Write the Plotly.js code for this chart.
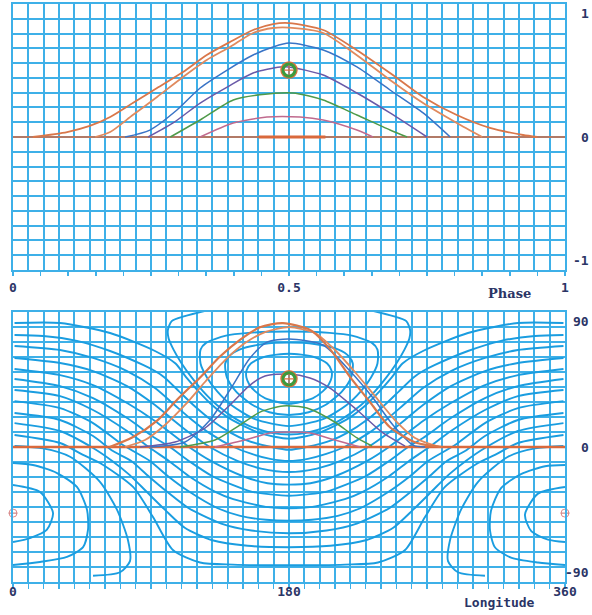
<!DOCTYPE html>
<html><head><meta charset="utf-8">
<script src="https://cdn.plot.ly/plotly-3.0.1.min.js"></script>
<style>body{margin:0;background:#fff}#chart{width:592px;height:615px}</style>
</head><body><div id="chart"></div>
<script>
// ---------- top panel: light curves (phase, relative flux) ----------
const c1Phase = [0.036, 0.098, 0.139, 0.176, 0.217, 0.261, 0.308, 0.351, 0.393, 0.435, 0.471, 0.5, 0.562, 0.623, 0.683, 0.743, 0.804, 0.864, 0.924, 0.95];
const c1Flux  = [0, 0.04, 0.089, 0.161, 0.274, 0.395, 0.524, 0.661, 0.766, 0.863, 0.911, 0.919, 0.863, 0.70, 0.516, 0.323, 0.177, 0.073, 0.016, 0];
const c2Phase = [0.149, 0.176, 0.217, 0.261, 0.308, 0.351, 0.393, 0.435, 0.471, 0.5, 0.562, 0.623, 0.683, 0.743, 0.804, 0.85];
const c2Flux  = [0, 0.04, 0.177, 0.323, 0.484, 0.621, 0.726, 0.839, 0.879, 0.882, 0.839, 0.66, 0.46, 0.274, 0.113, 0];
const c3Phase = [0.203, 0.248, 0.297, 0.339, 0.388, 0.435, 0.471, 0.5, 0.562, 0.623, 0.683, 0.743, 0.792];
const c3Flux  = [0, 0.056, 0.218, 0.395, 0.54, 0.661, 0.726, 0.758, 0.702, 0.565, 0.379, 0.194, 0];
const c4Phase = [0.245, 0.290, 0.339, 0.388, 0.435, 0.484, 0.5, 0.562, 0.623, 0.683, 0.75];
const c4Flux  = [0, 0.113, 0.274, 0.403, 0.516, 0.565, 0.565, 0.5, 0.355, 0.194, 0];
const c5Phase = [0.285, 0.339, 0.399, 0.447, 0.507, 0.562, 0.623, 0.683, 0.714];
const c5Flux  = [0, 0.137, 0.298, 0.34, 0.355, 0.298, 0.177, 0.056, 0];
const c6Phase = [0.339, 0.399, 0.46, 0.52, 0.562, 0.623, 0.652];
const c6Flux  = [0, 0.113, 0.161, 0.161, 0.137, 0.056, 0];
const basePhase = [0, 1];
const baseFlux  = [0, 0];
const c7Phase = [0.445, 0.5, 0.566];
const c7Flux  = [0, 0, 0];
const spotPhase = [0.5];
const spotFlux  = [0.54];

// ---------- bottom panel: map (longitude, latitude) ----------
const m1Lon = [63, 78, 94, 107, 122, 135, 148, 161, 176, 194, 207, 220, 233, 246, 263, 280];
const m1Lat = [0, 7, 19, 34, 50, 65, 77, 86, 89, 84, 70, 50, 32, 14, 3, 0];
const m2Lon = [73, 86.1, 99.1, 112.2, 125.2, 138.3, 151.3, 164.4, 180, 197, 210, 223, 236.1, 249.1, 262.2, 278.5];
const m2Lat = [0, 5, 15.8, 30.2, 46.7, 62.5, 74.7, 82.6, 86.2, 81.9, 69.7, 53.9, 36.6, 19.4, 6.5, 0];
const m3Lon = [89.4, 112.2, 128.5, 141.5, 154.6, 165.7, 180, 202.2, 219.8, 234.8, 247.8, 260.9, 268.7];
const m3Lat = [0, 3.6, 19.4, 41, 63.9, 75.4, 77.6, 73.3, 54.6, 35.2, 15.8, 1.4, 0];
const m4Lon = [82.8, 105.7, 125.2, 141.5, 154.6, 164.4, 180, 193.7, 206.7, 224.4, 241.3, 255.7];
const m4Lat = [0, 3.6, 13.6, 30.2, 44.5, 51, 52.5, 49.6, 42.4, 26.6, 10.1, 0.7];
const m5Lon = [108.9, 131.7, 148, 161.1, 176.1, 191.7, 208.7, 224.4, 234.1];
const m5Lat = [0, 5, 15.8, 25.1, 29.5, 28, 18.7, 6.5, 0.7];
const m6Lon = [131.7, 151.3, 167.6, 180.7, 193.7, 210, 226.3];
const m6Lat = [0, 5, 10.1, 10.8, 10.1, 5, 0];
const m7Lon = [0, 360];
const m7Lat = [0, 0];
const spotLon = [180];
const spotLat = [49];
const antiLon = [0, 360];
const antiLat = [-47.5, -47.5];

// iso-contours of the map, each read as a (longitude, latitude) path
const u1Lon = [1, 30.7, 63.3, 92.6, 106, 113, 121, 130, 142, 161, 180, 199, 218, 230, 239, 247, 254, 267.4, 296.7, 329.3, 359];
const u1Lat = [89.1, 89.1, 81.9, 69, 60, 50, 40, 30, 20, 10, 6, 10, 20, 30, 40, 50, 60, 69, 81.9, 89.1, 89.1];
const u2Lon = [1, 19.6, 41.7, 63.3, 84.8, 92.6, 98.8, 108.3, 117.8, 128.6, 142.4, 152, 168.5, 180, 191.5, 208, 217.6, 231.4, 242.2, 251.7, 261.2, 267.4, 275.2, 296.7, 318.3, 340.4, 359];
const u2Lat = [80.5, 79.8, 76.3, 69, 59, 54.6, 50, 40, 30, 20, 10, 5, 0, -2, 0, 5, 10, 20, 30, 40, 50, 54.6, 59, 69, 76.3, 79.8, 80.5];
const u3Lon = [1, 30.7, 52.2, 74.4, 92.6, 105.6, 116.2, 128.1, 143.9, 155.7, 167.7, 180, 192.3, 204.3, 216.1, 231.9, 243.8, 254.4, 267.4, 285.6, 307.8, 329.3, 359];
const u3Lat = [72.6, 69.7, 64, 54.6, 42.4, 30, 20, 10, 0, -5, -8.5, -10, -8.5, -5, 0, 10, 20, 30, 42.4, 54.6, 64, 69.7, 72.6];
const u4Lon = [1, 30.7, 52.2, 74.4, 92.6, 103.9, 115.3, 128.3, 146.3, 161.8, 180, 198.2, 213.7, 231.7, 244.7, 256.1, 267.4, 285.6, 307.8, 329.3, 359];
const u4Lat = [64, 60.4, 54.6, 43.8, 30.2, 20, 10, 0, -10, -15.5, -18, -15.5, -10, 0, 10, 20, 30.2, 43.8, 54.6, 60.4, 64];
const u5Lon = [1, 30.7, 52.2, 74.4, 92.6, 102.9, 114.8, 129, 150, 166, 180, 194, 210, 231, 245.2, 257.1, 267.4, 285.6, 307.8, 329.3, 359];
const u5Lat = [56.1, 51.7, 44.5, 31.6, 18.7, 10, 0, -10, -21, -26, -27, -26, -21, -10, 0, 10, 18.7, 31.6, 44.5, 51.7, 56.1];
const u6Lon = [1, 30.7, 52.2, 74.4, 92.6, 102.3, 114.7, 130.1, 155.4, 168, 180, 192, 204.6, 229.9, 245.3, 257.7, 267.4, 285.6, 307.8, 329.3, 359];
const u6Lat = [48.9, 43.8, 35.2, 20.8, 6.5, 0, -10, -21, -32, -34, -35, -34, -32, -21, -10, 0, 6.5, 20.8, 35.2, 43.8, 48.9];
const u7Lon = [1, 30.7, 52.2, 74.4, 89.4, 101.7, 114.8, 131.6, 143.6, 164.8, 180, 195.2, 216.4, 228.4, 245.2, 258.3, 270.6, 285.6, 307.8, 329.3, 359];
const u7Lat = [41, 36.6, 26.6, 11.5, -0.7, -10, -21, -32, -37.5, -43, -44, -43, -37.5, -32, -21, -10, -0.7, 11.5, 26.6, 36.6, 41];
const u8Lon = [1, 30.7, 52.2, 71.7, 89.3, 101.1, 114.8, 133.5, 148.2, 165, 180, 195, 211.8, 226.5, 245.2, 258.9, 270.7, 288.3, 307.8, 329.3, 359];
const u8Lat = [33, 28, 17.2, 1.4, -10, -21, -32, -44, -49.5, -52.3, -53, -52.3, -49.5, -44, -32, -21, -10, 1.4, 17.2, 28, 33];
const u9Lon = [1, 30.7, 52.2, 65.2, 77.1, 88.4, 100.3, 114.6, 135.8, 155.5, 180, 204.5, 224.2, 245.4, 259.7, 271.6, 282.9, 294.8, 307.8, 329.3, 359];
const u9Lat = [24.4, 19.4, 7.9, -2.9, -10, -21, -32, -44, -55, -60, -62, -60, -55, -44, -32, -21, -10, -2.9, 7.9, 19.4, 24.4];
const u10Lon = [1, 30.7, 52.2, 64.7, 76, 87, 99, 112, 130, 153, 180, 207, 230, 248, 261, 273, 284, 295.3, 307.8, 329.3, 359];
const u10Lat = [17.2, 11.5, -0.7, -10, -20, -32, -45, -58, -67, -71, -72, -71, -67, -58, -45, -32, -20, -10, -0.7, 11.5, 17.2];
const u11Lon = [1, 30.7, 45.7, 56.7, 78.3, 91.3, 104.3, 122, 143.5, 180, 216.5, 238, 255.7, 268.7, 281.7, 303.3, 314.3, 329.3, 359];
const u11Lat = [8.6, 2.9, -5.7, -11.5, -28.7, -50.3, -74, -83, -84.5, -85, -84.5, -83, -74, -50.3, -28.7, -11.5, -5.7, 2.9, 8.6];
const hl1Lon = [0, 17.6, 26.1, 22, 11.1, 0];  const hl1Lat = [-27.3, -32.3, -47.4, -59.6, -65.4, -68.3];
const hl2Lon = [0, 13, 28.7, 41.7, 48.3, 48.9, 45.7, 35.2, 17.6, 0]; const hl2Lat = [-11.5, -12.9, -18.7, -28.7, -45.3, -59.6, -71.9, -79, -82.6, -84.8];
const hl3Lon = [1, 19.6, 37.2, 56.7, 67.8, 75, 76.3, 69.8, 52.2]; const hl3Lat = [0.7, -1, -7, -25, -45, -67, -82, -90, -92.5];
const hr1Lon = [360, 342.4, 333.9, 338, 348.9, 360]; const hr1Lat = [-28.7, -33.5, -48.5, -60.5, -66.5, -68.3];
const hr2Lon = [360, 347, 331.3, 318.3, 311.7, 311.1, 314.3, 324.8, 342.4, 360]; const hr2Lat = [-12.9, -13.8, -19.5, -29.5, -46, -60, -72, -79.5, -83, -84.8];
const hr3Lon = [359, 340.4, 322.8, 303.3, 292.2, 285, 283.7, 290.2, 307.8]; const hr3Lat = [0.7, -1, -7, -25, -45, -67, -82, -90, -92.5];
const l18Lon = [180, 164.4, 155.1, 152.3, 152.2, 154.1, 158, 164.6, 180, 195.4, 202, 205.9, 207.8, 207.7, 204.9, 195.6, 180];
const l18Lat = [67, 65, 60, 55, 50, 45, 40, 35, 31, 35, 40, 45, 50, 55, 60, 65, 67];
const l26Lon = [180, 163.4, 147.7, 140.8, 138.4, 139.5, 145.4, 156.6, 167.2, 180, 192.8, 203.4, 214.6, 220.5, 221.6, 219.2, 212.3, 196.6, 180];
const l26Lat = [75, 74, 70, 65, 60, 50, 40, 30, 25, 23, 25, 30, 40, 50, 60, 65, 70, 74, 75];
const l34Lon = [180, 153.4, 138.9, 126.1, 122.3, 122.3, 126.5, 133.2, 142.6, 157.8, 180, 202.2, 217.4, 226.8, 233.5, 237.7, 237.7, 233.9, 221.1, 206.6, 180];
const l34Lat = [83, 82, 80, 75, 70, 60, 50, 40, 30, 20, 15, 20, 30, 40, 50, 60, 70, 75, 80, 82, 83];
const hookLon = [126, 112, 103.5, 101, 101.5, 104.7, 110, 116.5, 124, 133.2, 145.5, 154.3, 169.4, 180, 190.6, 205.7, 214.5, 226.8, 236, 243.5, 250, 255.3, 258.5, 259, 256.5, 248, 234];
const hookLat = [98, 94, 90.5, 84, 78, 70, 60, 50, 40, 30, 20, 15, 10, 9, 10, 15, 20, 30, 40, 50, 60, 70, 78, 84, 90.5, 94, 98];

const contourLon = [u1Lon, u2Lon, u3Lon, u4Lon, u5Lon, u6Lon, u7Lon, u8Lon, u9Lon, u10Lon, u11Lon,
  hl1Lon, hl2Lon, hl3Lon, hr1Lon, hr2Lon, hr3Lon, l18Lon, l26Lon, l34Lon, hookLon];
const contourLat = [u1Lat, u2Lat, u3Lat, u4Lat, u5Lat, u6Lat, u7Lat, u8Lat, u9Lat, u10Lat, u11Lat,
  hl1Lat, hl2Lat, hl3Lat, hr1Lat, hr2Lat, hr3Lat, l18Lat, l26Lat, l34Lat, hookLat];

// ---------- axes text ----------
const phaseTickVals = [0, 0.5, 1];
const phaseTickText = ['0', '0.5', '1'];
const fluxTickVals = [-1, 0, 1];
const fluxTickText = ['-1', '0', '1'];
const lonTickVals = [0, 180, 360];
const lonTickText = ['0', '180', '360'];
const latTickVals = [-90, 0, 90];
const latTickText = ['-90', '0', '90'];

const GRID = '#3eb0e8';
const CONT = '#1a9de0';
const TXT = '#2b3566';

function line(x, y, color, width, xa, ya) {
  return {x, y, xaxis: xa, yaxis: ya, type: 'scatter', mode: 'lines',
          line: {color, width, shape: 'spline', smoothing: 0.7}, hoverinfo: 'skip', showlegend: false};
}
const spotMarker = {symbol: 'circle-open', size: 12, color: '#3d9a3d', line: {width: 3.2, color: '#3d9a3d'}};
const spotHalo = {symbol: 'circle-open', size: 16, color: '#e0703c', line: {width: 1.5, color: '#e0703c'}};
const spotCross = {symbol: 'cross-thin-open', size: 7, color: '#e0703c', line: {width: 1.2, color: '#e0703c'}};

const traces = [];
for (let i = 0; i < contourLon.length; i++) traces.push(line(contourLon[i], contourLat[i], CONT, 1.9, 'x2', 'y2'));
traces.push(
  line(basePhase, baseFlux, '#d9693c', 1.6, 'x', 'y'),
  line(c7Phase, c7Flux, '#d9693c', 3, 'x', 'y'),
  line(c6Phase, c6Flux, '#c06a8e', 1.5, 'x', 'y'),
  line(c5Phase, c5Flux, '#4f9a4a', 1.5, 'x', 'y'),
  line(c4Phase, c4Flux, '#6a5aa8', 1.5, 'x', 'y'),
  line(c3Phase, c3Flux, '#3a74c6', 1.5, 'x', 'y'),
  line(c2Phase, c2Flux, '#e08a5e', 1.8, 'x', 'y'),
  line(c1Phase, c1Flux, '#d9774a', 1.8, 'x', 'y'),
  {x: spotPhase, y: spotFlux, xaxis: 'x', yaxis: 'y', type: 'scatter', mode: 'markers', marker: spotHalo, showlegend: false},
  {x: spotPhase, y: spotFlux, xaxis: 'x', yaxis: 'y', type: 'scatter', mode: 'markers', marker: spotMarker, showlegend: false},
  {x: spotPhase, y: spotFlux, xaxis: 'x', yaxis: 'y', type: 'scatter', mode: 'markers', marker: spotCross, showlegend: false},
  line(m7Lon, m7Lat, '#d9693c', 2.6, 'x2', 'y2'),
  line(m6Lon, m6Lat, '#c06a8e', 1.5, 'x2', 'y2'),
  line(m5Lon, m5Lat, '#4f9a4a', 1.5, 'x2', 'y2'),
  line(m4Lon, m4Lat, '#6a5aa8', 1.5, 'x2', 'y2'),
  line(m3Lon, m3Lat, '#3a74c6', 1.5, 'x2', 'y2'),
  line(m2Lon, m2Lat, '#e08a5e', 1.8, 'x2', 'y2'),
  line(m1Lon, m1Lat, '#d9774a', 2.2, 'x2', 'y2'),
  {x: spotLon, y: spotLat, xaxis: 'x2', yaxis: 'y2', type: 'scatter', mode: 'markers', marker: spotHalo, showlegend: false},
  {x: spotLon, y: spotLat, xaxis: 'x2', yaxis: 'y2', type: 'scatter', mode: 'markers', marker: spotMarker, showlegend: false},
  {x: spotLon, y: spotLat, xaxis: 'x2', yaxis: 'y2', type: 'scatter', mode: 'markers', marker: spotCross, showlegend: false},
  {x: antiLon, y: antiLat, xaxis: 'x2', yaxis: 'y2', type: 'scatter', mode: 'markers', cliponaxis: false,
   marker: {symbol: 'circle-open', size: 8, color: '#e08a8a', line: {width: 1}}, showlegend: false},
  {x: antiLon, y: antiLat, xaxis: 'x2', yaxis: 'y2', type: 'scatter', mode: 'markers', cliponaxis: false,
   marker: {symbol: 'line-ew-open', size: 6, color: '#c07070', line: {width: 1}}, showlegend: false}
);

const font = {family: 'DejaVu Sans Mono', size: 13, color: TXT, weight: 'bold'};
const gridAx = {showline: true, linecolor: GRID, linewidth: 2, mirror: true, showgrid: true,
                gridcolor: GRID, gridwidth: 2, zeroline: false, showticklabels: false, ticks: ''};

const annotations = [];
function yLabels(vals, texts, yref) {
  vals.forEach((v, i) => annotations.push({text: texts[i], x: 1.047, y: v, xref: 'paper', yref,
    xanchor: 'right', yanchor: 'middle', showarrow: false, font}));
}
yLabels(fluxTickVals, fluxTickText, 'y');
yLabels(latTickVals, latTickText, 'y2');
annotations.push(
  {text: 'Phase', x: 0.8986, xanchor: 'center', y: 0, xref: 'paper', yref: 'y', yshift: -156, showarrow: false,
   font: {family: 'DejaVu Serif', size: 13, color: TXT, weight: 'bold'}},
  {text: 'Longitude', x: 0.882, xanchor: 'center', y: -97, xref: 'paper', yref: 'y2', yshift: -21, showarrow: false,
   font: {family: 'DejaVu Sans Mono', size: 13, color: TXT, weight: 'bold'}}
);

const layout = {
  width: 592, height: 615, paper_bgcolor: '#fff', plot_bgcolor: '#fff',
  margin: {l: 13, r: 27, t: 4, b: 33},
  showlegend: false,
  xaxis: Object.assign({}, gridAx, {domain: [0, 1], range: [0, 1], dtick: 1/36, tick0: 0, anchor: 'y'}),
  yaxis: Object.assign({}, gridAx, {domain: [0.5398, 1], range: [-1.0726, 1.0726], dtick: 2.1452/18, tick0: 0, anchor: 'x'}),
  xaxis2: Object.assign({}, gridAx, {domain: [0, 1], range: [0, 360], dtick: 10, tick0: 0, anchor: 'y2',
           ticks: 'outside', ticklen: 5, tickcolor: GRID, tickwidth: 1.5}),
  yaxis2: Object.assign({}, gridAx, {domain: [0, 0.4671], range: [-97, 97], dtick: 194/18, tick0: 0, anchor: 'x2'}),
  xaxis3: {overlaying: 'x', anchor: 'y', range: [0, 1], tickvals: phaseTickVals, ticktext: phaseTickText,
           showgrid: false, zeroline: false, showline: false, side: 'bottom', tickfont: font,
           ticks: 'outside', ticklen: 5, tickcolor: GRID, tickwidth: 1.5,
           minor: {dtick: 0.05, tick0: 0, ticks: 'outside', ticklen: 5, tickcolor: GRID, tickwidth: 1.5, showgrid: false}},
  xaxis4: {overlaying: 'x2', anchor: 'y2', range: [0, 360], tickvals: lonTickVals, ticktext: lonTickText,
           showgrid: false, zeroline: false, showline: false, ticks: '', side: 'bottom', tickfont: font},
  annotations
};
traces.push({x: [0], y: [0], xaxis: 'x3', yaxis: 'y', mode: 'markers', marker: {opacity: 0}, showlegend: false, hoverinfo: 'skip'});
traces.push({x: [0], y: [0], xaxis: 'x4', yaxis: 'y2', mode: 'markers', marker: {opacity: 0}, showlegend: false, hoverinfo: 'skip'});

Plotly.newPlot('chart', traces, layout, {staticPlot: true});
</script></body></html>
